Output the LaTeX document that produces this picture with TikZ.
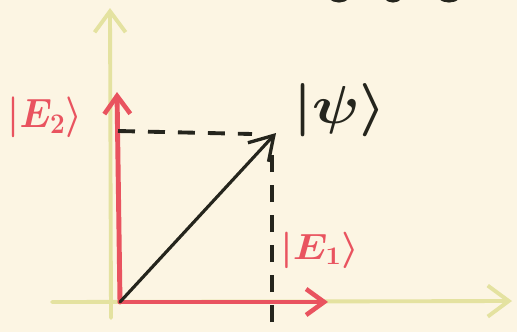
\documentclass[tikz,border=0pt]{standalone}
\usetikzlibrary{arrows.meta}
\definecolor{paper}{HTML}{FCF5E3}
\definecolor{axiscol}{HTML}{E4E2A0}
\definecolor{ketred}{HTML}{E9535F}
\definecolor{ink}{HTML}{25251D}
\tikzset{
  axisline/.style={axiscol, line width=2.2pt, line cap=round,
    -{Straight Barb[length=0.42cm,width=0.62cm,line width=2.2pt]}},
  ketline/.style={ketred, line width=2.8pt, line cap=round,
    -{Straight Barb[length=0.36cm,width=0.52cm,line width=2.6pt]}},
  projline/.style={ink, line width=2.2pt, dash pattern=on 0.34cm off 0.26cm},
  ketlabel/.style={inner sep=0pt}
}
\begin{document}
\boldmath
\begin{tikzpicture}[x=0.02cm,y=-0.02cm]
    \fill[paper] (0,0) rectangle (517,332);
    \useasboundingbox (0,0) rectangle (517,332);
    \clip (0,0) rectangle (517,332);

    % Points
    \coordinate (O) at (120,302);
    \coordinate (ybot) at (111,318);
    \coordinate (ytop) at (110,8);
    \coordinate (xleft) at (52,302);
    \coordinate (xright) at (512,301);
    \coordinate (E1tip) at (328,302);
    \coordinate (E2tip) at (117,92);
    \coordinate (psitip) at (276,133);
    \coordinate (py) at (118,131);
    \coordinate (pyend) at (252,134);
    \coordinate (pxtop) at (272,152);
    \coordinate (pxbot) at (272,322);

    % Axes
    \draw[axisline] (ybot) -- (ytop);
    \draw[axisline] (xleft) -- (xright);

    % Basis kets
    \draw[ketline] (O) -- (E1tip);
    \draw[ketline] (O) -- (E2tip);

    % Projections
    \draw[projline] (py) -- (pyend);
    \draw[projline] (pxbot) -- (pxtop);

    % State
    \draw[ink, line width=1.8pt, line cap=round,
      -{Straight Barb[length=0.46cm,width=0.56cm,line width=1.9pt]}] (O) -- (psitip);

    % Labels
    \node[ketlabel, text=ketred, scale=1.12, xscale=0.92] (E2) at (45,117)
      {\fontsize{22}{24}\selectfont$|E_2\rangle$};
    \node[ketlabel, text=ink, scale=1.22, xscale=1.12] (psi) at (340,110)
      {\fontsize{24.88}{27}\selectfont$|\psi\rangle$};
    \node[ketlabel, text=ketred, xscale=1.1] (E1) at (320,250)
      {\fontsize{22}{24}\selectfont$|E_1\rangle$};

    % Cut-off marks at the top edge
    \draw[ink, line width=4pt] (339,-11) ellipse [x radius=0.22cm, y radius=0.2cm];
    \draw[ink, line width=4pt] (393,-11) ellipse [x radius=0.18cm, y radius=0.2cm];
    \draw[ink, line width=4pt] (449,-11) ellipse [x radius=0.24cm, y radius=0.2cm];
\end{tikzpicture}
\end{document}
